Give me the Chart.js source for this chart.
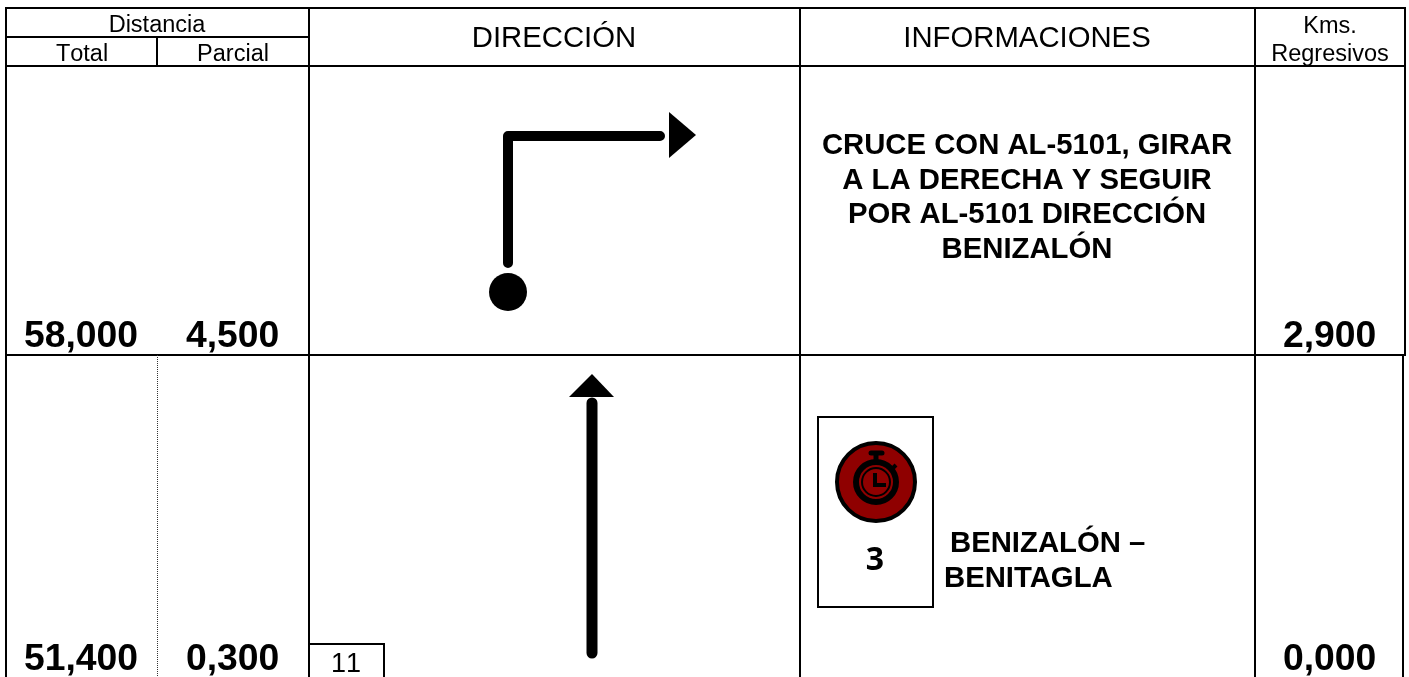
<!DOCTYPE html>
<html>
<head>
<meta charset="utf-8">
<title>Distancia</title>
<script src="https://cdn.jsdelivr.net/npm/chart.js@4"></script>
<style>
html, body { margin: 0; padding: 0; background: #fff; overflow: hidden; }
canvas { display: block; }
</style>
</head>
<body>
<canvas id="roadbook" width="1409" height="677"></canvas>
<script>
// table rules, [x1, y1, x2, y2] in sheet units
const tableRules = [
    [5, 8, 1406, 8], [6, 37, 309, 37], [6, 66, 1405, 66], [5, 355, 1406, 355],
    [6, 8, 6, 677], [309, 8, 309, 677], [800, 8, 800, 677], [1255, 8, 1255, 677],
    [157, 37, 157, 66], [1405, 8, 1405, 355], [1403, 355, 1403, 677],
    [309, 644, 385, 644], [384, 644, 384, 677]
];
const dottedRule = [[157.5, 355], [157.5, 677]];
const iconBox = [[818, 417], [933, 417], [933, 607], [818, 607], [818, 417]];

const turnLine = [[508, 263], [508, 136], [660, 136]];
const turnHead = [[669, 112], [696, 135], [669, 158]];
const turnDot = [[508, 292]];
const straightLine = [[592, 403], [592, 653]];
const straightHead = [[592, 374], [614, 397], [569, 397]];

const watchCentre = [[876, 482]];
const watchCap = [[871, 453], [882, 453]];
const watchStem = [[876, 454], [876, 462]];
const watchKnob = [[891, 470], [896, 465]];
const watchHands = [[875, 473], [875, 485], [886, 485]];

// texts
const distanceTotal = ['58,000', '51,400'];
const distancePartial = ['4,500', '0,300'];
const regressiveKms = ['2,900', '0,000'];
const infoLines = ['CRUCE CON AL-5101, GIRAR', 'A LA DERECHA Y SEGUIR', 'POR AL-5101 DIRECCIÓN', 'BENIZALÓN'];
const stageLines = ['BENIZALÓN –', 'BENITAGLA'];

const xy = pts => pts.map(p => ({ x: p[0], y: p[1] }));
const path = (pts, width, extra) => Object.assign({
    data: xy(pts), showLine: true, borderColor: '#000', borderWidth: width,
    pointRadius: 0, fill: false, tension: 0
}, extra);
const dot = (pts, radius, fillColor, ring) => ({
    data: xy(pts), showLine: false, pointStyle: 'circle', pointRadius: radius,
    pointBackgroundColor: fillColor, pointBorderColor: '#000', pointBorderWidth: ring
});
const solid = pts => path(pts, 0, { fill: 'shape', backgroundColor: '#000', borderWidth: 0 });

const datasets = [
    ...tableRules.map(r => path([[r[0], r[1]], [r[2], r[3]]], 2)),
    path(dottedRule, 1, { borderColor: '#333', borderDash: [1, 1] }),
    path(iconBox, 2, { borderCapStyle: 'square' }),
    path(turnLine, 10, { borderCapStyle: 'round', borderJoinStyle: 'round' }),
    solid(turnHead),
    dot(turnDot, 19, '#000', 0),
    path(straightLine, 11, { borderCapStyle: 'round' }),
    solid(straightHead),
    dot(watchCentre, 39, '#8f0000', 4),
    dot(watchCentre, 20, '#8f0000', 6),
    dot(watchCentre, 14, '#8f0000', 2),
    path(watchCap, 5, { borderCapStyle: 'round' }),
    path(watchStem, 5),
    path(watchKnob, 4),
    path(watchHands, 4)
];
datasets.forEach((d, i) => { d.order = -i; });

const textPlugin = {
    id: 'sheetText',
    afterDatasetsDraw(chart) {
        const c = chart.ctx;
        const sx = chart.scales.x, sy = chart.scales.y;
        const put = (text, x, y, font, align, kerning) => {
            c.font = font;
            c.fontKerning = kerning || 'none';
            c.textAlign = align || 'left';
            c.textBaseline = 'alphabetic';
            c.fillStyle = '#000';
            c.fillText(text, sx.getPixelForValue(x), sy.getPixelForValue(y));
        };
        const head = '23.5px "Liberation Sans"';
        const title = '29.3px "Liberation Sans"';
        const big = 'bold 37.3px "Liberation Sans"';
        const info = 'bold 29.3px "Liberation Sans"';
        put('Distancia', 157, 32, head, 'center');
        put('Total', 82, 61, head, 'center');
        put('Parcial', 233, 61, head, 'center');
        put('DIRECCIÓN', 554, 47, title, 'center');
        put('INFORMACIONES', 1027, 47, title, 'center');
        put('Kms.', 1330, 33, head, 'center');
        put('Regresivos', 1330, 61, head, 'center');
        [347, 670].forEach((y, i) => {
            put(distanceTotal[i], 24, y, big);
            put(distancePartial[i], 186, y, big);
            put(regressiveKms[i], 1283, y, big);
        });
        [154, 189, 223, 258].forEach((y, i) => put(infoLines[i], 1027, y, info, 'center'));
        put(stageLines[0], 950, 552, info);
        put(stageLines[1], 944, 587, info, 'left', 'normal');
        put('3', 875, 570, 'bold 32px "Noto Sans"', 'center');
        put('11', 346, 672, '27px "Liberation Sans"', 'center');
    }
};

new Chart(document.getElementById('roadbook').getContext('2d'), {
    type: 'scatter',
    data: { datasets },
    plugins: [textPlugin],
    options: {
        responsive: false,
        animation: false,
        events: [],
        layout: { padding: 0, autoPadding: false },
        plugins: { legend: { display: false }, tooltip: { enabled: false } },
        scales: {
            x: { type: 'linear', min: 0, max: 1409, display: false },
            y: { type: 'linear', min: 0, max: 677, reverse: true, display: false }
        }
    }
});
</script>
</body>
</html>
